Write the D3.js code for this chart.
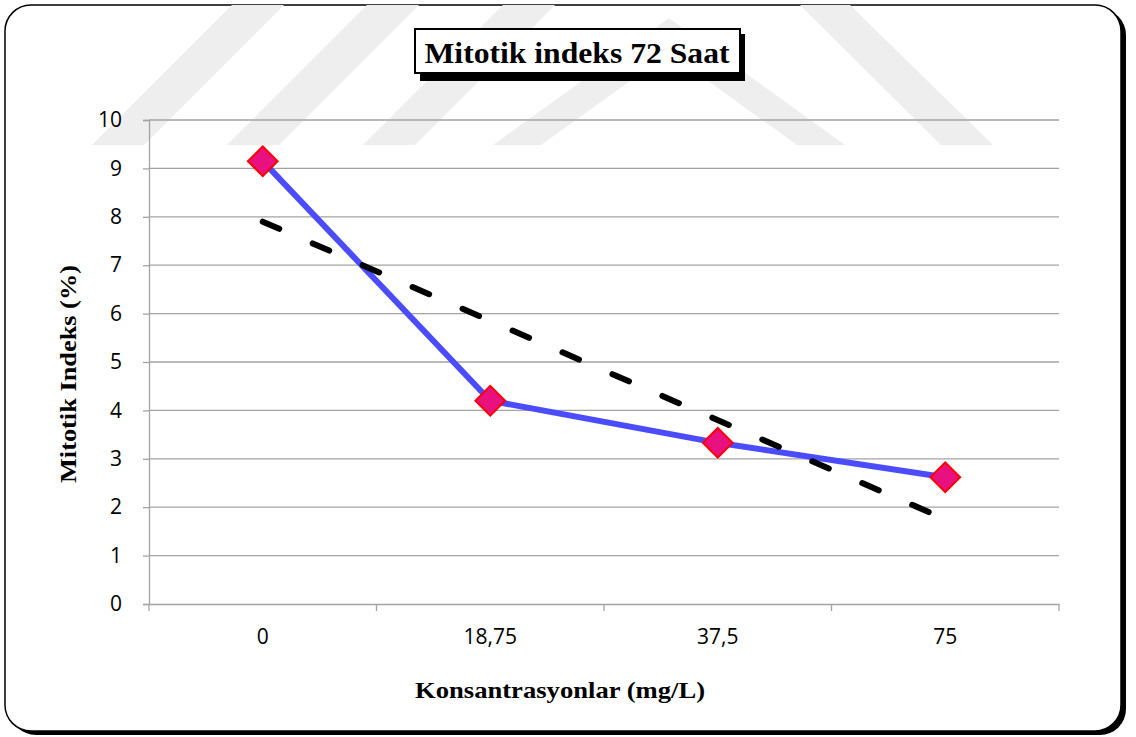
<!DOCTYPE html>
<html>
<head>
<meta charset="utf-8">
<script src="https://cdn.jsdelivr.net/npm/d3@7"></script>
<style>
  body { margin: 0; background: #fff; }
</style>
</head>
<body>
<svg id="chart" width="1136" height="737"></svg>
<script>
// data
var categories = ["0", "18,75", "37,5", "75"];
var mitotikValues = [9.15, 4.2, 3.33, 2.62];
var trendCategories = ["0", "75"];
var trendValues = [7.9, 1.75];
var yTicks = [0, 1, 2, 3, 4, 5, 6, 7, 8, 9, 10];

var chartTitle = "Mitotik indeks 72 Saat";
var xTitle = "Konsantrasyonlar (mg/L)";
var yTitle = "Mitotik Indeks (%)";

var margin = {top: 120, right: 77, bottom: 133, left: 149};
var width = 1136;
var height = 737;

var svg = d3.select("#chart");

function drawFrame() {
  // shadow then white card
  svg.append("rect")
     .attr("x", 10).attr("y", 9)
     .attr("width", 1116).attr("height", 726)
     .attr("rx", 26).attr("ry", 26)
     .style("fill", "#000");

  svg.append("rect")
     .attr("x", 5).attr("y", 5)
     .attr("width", 1116).attr("height", 726)
     .attr("rx", 26).attr("ry", 26)
     .style("fill", "#fff")
     .style("stroke", "#000")
     .style("stroke-width", 1.5);
}

function drawWatermark() {
  var wm = svg.append("g").style("fill", "#eeeeee");
  // slanted stripes on the left
  [92, 227, 363].forEach(function(bx) {
    wm.append("polygon")
      .attr("points", [[bx, 145], [bx + 52, 145], [bx + 52 + 140, 5], [bx + 140, 5]].join(" "));
  });
  // the chevron
  wm.append("polygon")
    .attr("points", [[493, 145], [541, 145], [669, 53], [797, 145], [845, 145], [669, 18]].join(" "));
  // right stripe
  wm.append("polygon")
    .attr("points", [[800, 5], [850, 5], [993, 145], [941, 145]].join(" "));
}

function drawChart() {
  var x = d3.scaleBand()
      .domain(categories)
      .range([margin.left, width - margin.right])
      .padding(0);

  var y = d3.scaleLinear()
      .domain([0, 10])
      .range([height - margin.bottom, margin.top]);

  // gridlines
  svg.append("g")
     .selectAll("line")
     .data(yTicks.slice(1))
     .enter()
       .append("line")
       .attr("x1", margin.left)
       .attr("x2", width - margin.right)
       .attr("y1", function(d) { return y(d); })
       .attr("y2", function(d) { return y(d); })
       .style("stroke", "#a3a3a3")
       .style("stroke-width", 1.3);

  // y axis
  var yAxis = svg.append("g")
     .attr("transform", "translate(" + margin.left + ",0)")
     .call(d3.axisLeft(y).tickValues(yTicks).tickSize(6).tickPadding(21));
  yAxis.select(".domain").style("stroke", "#a3a3a3").style("stroke-width", 1.3);
  yAxis.selectAll(".tick line").style("stroke", "#a3a3a3").style("stroke-width", 1.3);
  yAxis.selectAll("text")
       .style("font-family", "'Open Sans', sans-serif")
       .style("font-size", "21px")
       .style("fill", "#000");

  // x axis, ticks between categories
  var xAxis = svg.append("g")
     .attr("transform", "translate(0," + y(0) + ")")
     .call(d3.axisBottom(x).tickSize(0).tickPadding(25));
  xAxis.select(".domain").style("stroke", "#a3a3a3").style("stroke-width", 1.3);
  xAxis.selectAll("text")
       .style("font-family", "'Open Sans', sans-serif")
       .style("font-size", "21px")
       .style("fill", "#000");

  var edges = categories.map(function(c) { return x(c); });
  edges.push(x(categories[categories.length - 1]) + x.bandwidth());
  svg.append("g")
     .selectAll("line")
     .data(edges)
     .enter()
       .append("line")
       .attr("x1", function(d) { return d; })
       .attr("x2", function(d) { return d; })
       .attr("y1", y(0))
       .attr("y2", y(0) + 7)
       .style("stroke", "#a3a3a3")
       .style("stroke-width", 1.3);

  var cx = function(c) { return x(c) + x.bandwidth() / 2; };

  // data line
  var line = d3.line()
      .x(function(d, i) { return cx(categories[i]); })
      .y(function(d) { return y(d); });

  svg.append("path")
     .datum(mitotikValues)
     .attr("d", line)
     .style("fill", "none")
     .style("stroke", "#4c4cff")
     .style("stroke-width", 6)
     .style("stroke-linejoin", "round");

  // trendline
  var trend = d3.line()
      .x(function(d, i) { return cx(trendCategories[i]); })
      .y(function(d) { return y(d); });

  svg.append("path")
     .datum(trendValues)
     .attr("d", trend)
     .style("fill", "none")
     .style("stroke", "#000")
     .style("stroke-width", 6)
     .style("stroke-linecap", "round")
     .style("stroke-dasharray", "18 36.5");

  // diamond markers
  svg.append("g")
     .selectAll("path")
     .data(mitotikValues)
     .enter()
       .append("path")
       .attr("transform", function(d, i) {
         return "translate(" + cx(categories[i]) + "," + y(d) + ") rotate(45)";
       })
       .attr("d", "M-10.5,-10.5H10.5V10.5H-10.5Z")
       .style("fill", "#e8117f")
       .style("stroke", "#ff0000")
       .style("stroke-width", 2);

  // axis titles
  svg.append("text")
     .attr("x", 560).attr("y", 698)
     .attr("text-anchor", "middle")
     .attr("textLength", 290)
     .attr("lengthAdjust", "spacingAndGlyphs")
     .style("font-family", "'Liberation Serif', serif")
     .style("font-weight", "bold")
     .style("font-size", "24px")
     .text(xTitle);

  svg.append("text")
     .attr("transform", "translate(76,374) rotate(-90)")
     .attr("text-anchor", "middle")
     .attr("textLength", 218)
     .attr("lengthAdjust", "spacingAndGlyphs")
     .style("font-family", "'Liberation Serif', serif")
     .style("font-weight", "bold")
     .style("font-size", "24px")
     .text(yTitle);
}

function drawTitle() {
  var g = svg.append("g");
  g.append("rect")
   .attr("x", 420).attr("y", 34)
   .attr("width", 325).attr("height", 47)
   .style("fill", "#000");
  g.append("rect")
   .attr("x", 415).attr("y", 29)
   .attr("width", 325).attr("height", 44)
   .style("fill", "#fff")
   .style("stroke", "#000")
   .style("stroke-width", 2);
  g.append("text")
   .attr("x", 577).attr("y", 63)
   .attr("text-anchor", "middle")
   .attr("textLength", 305)
   .attr("lengthAdjust", "spacingAndGlyphs")
   .style("font-family", "'Liberation Serif', serif")
   .style("font-weight", "bold")
   .style("font-size", "30px")
   .text(chartTitle);
}

document.addEventListener("DOMContentLoaded", function(e) {
  drawFrame();
  drawWatermark();
  drawChart();
  drawTitle();
});
</script>
</body>
</html>
